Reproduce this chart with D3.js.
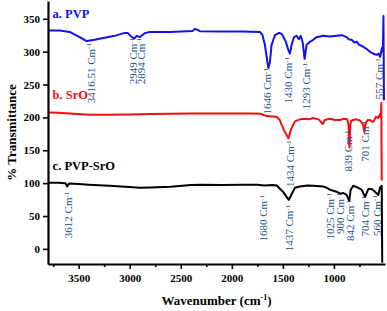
<!DOCTYPE html>
<html>
<head>
<meta charset="utf-8">
<script src="https://cdn.jsdelivr.net/npm/d3@7"></script>
<style>
  body { margin: 0; background: #fff; }
  svg { display: block; }
  text { font-family: "Liberation Serif", "Times New Roman", serif; }
</style>
</head>
<body>
<div id="chart"></div>
<script>
// FTIR spectra, [wavenumber (cm-1), % transmittance (offset)]
let pvp = [
  [3800, 332], [3686, 332], [3588, 330], [3490, 322], [3422, 316], [3343, 318],
  [3245, 321], [3147, 324], [3049, 328.5], [3020, 328.5], [2980, 322], [2955, 320],
  [2931, 324], [2902, 322], [2853, 328], [2804, 330], [2608, 330], [2382, 331.5],
  [2363, 334.6], [2333, 333], [2314, 331], [2100, 330.5], [1900, 330.5], [1725, 330],
  [1699, 325], [1676, 310], [1654, 287], [1642, 275], [1627, 284], [1611, 310],
  [1578, 325], [1536, 328.5], [1512, 327], [1490, 321], [1471, 315], [1448, 303],
  [1431, 297], [1415, 310], [1392, 322], [1366, 324], [1343, 319], [1326, 324],
  [1307, 315], [1287, 289], [1268, 310], [1235, 315], [1203, 318], [1170, 322],
  [1105, 324], [1040, 323], [974, 324], [920, 325], [876, 322], [850, 318.5],
  [827, 318], [800, 314], [777, 315], [750, 310], [728, 309], [700, 306],
  [679, 304], [655, 301], [630, 298], [600, 296], [581, 295], [560, 297],
  [548, 292], [538, 299], [529, 306], [521, 300], [515, 354], [510, 226]
];

let sro = [
  [3800, 207.5], [3700, 207], [3550, 205.5], [3400, 204], [3200, 204], [3000, 204.5],
  [2800, 205], [2600, 205.5], [2400, 206], [2200, 206], [2000, 206], [1800, 206],
  [1720, 205.5], [1660, 202], [1562, 201], [1530, 196], [1513, 189], [1490, 181],
  [1445, 168], [1422, 181], [1382, 194], [1366, 195], [1330, 197], [1284, 198],
  [1240, 197], [1206, 199], [1150, 197], [1108, 190], [1090, 196], [1039, 198],
  [990, 196], [941, 196], [900, 198], [870, 197], [858, 189], [848, 154],
  [840, 189], [830, 195], [811, 196], [780, 197], [745, 195], [716, 190],
  [703, 178], [691, 190], [670, 196], [647, 196], [620, 193], [608, 195],
  [588, 201], [566, 199], [549, 205], [540, 200], [536, 222], [532, 104]
];

let pvpSro = [
  [3800, 100.5], [3700, 100.5], [3630, 100], [3612, 95], [3595, 99.5], [3500, 98.5],
  [3400, 97.5], [3200, 96], [3000, 94], [2900, 93], [2800, 93.5], [2600, 94.5],
  [2400, 97], [2300, 97.5], [2100, 97], [1900, 97.5], [1750, 97.5], [1680, 96.5],
  [1600, 97], [1560, 96.5], [1500, 87], [1442, 74.5], [1382, 93], [1333, 95],
  [1260, 96.5], [1203, 96], [1105, 95], [1072, 93], [1039, 90], [974, 87],
  [941, 84], [908, 85], [876, 82], [850, 73], [836, 90], [811, 96], [777, 94],
  [728, 90], [696, 79], [663, 91], [630, 91], [598, 87], [565, 82], [549, 93],
  [532, 96], [527, -21]
];

// peak labels: [label, wavenumber, %T at the top end of the label]
let pvpPeaks = [
  ["3416.51", 3382, 313], ["2949", 2966, 321], ["2894", 2892, 321],
  ["1646", 1650, 275], ["1430", 1447, 292], ["1293", 1275, 283], ["557", 556, 290]
];
let sroPeaks = [["1434", 1431, 165], ["839", 860, 180], ["701", 696, 195]];
let pvpSroPeaks = [
  ["3612", 3603, 87], ["1680", 1693, 82], ["1437", 1438, 67], ["1025", 1039, 85],
  ["900", 941, 85], ["842", 843, 74.5], ["704", 696, 81], ["560", 581, 82]
];

let seriesNames = ["a. PVP", "b. SrO", "c. PVP-SrO"];
let seriesColors = ["#1010f0", "#f01010", "#000000"];
let nameLevels = [351, 228, 120];

let xTicks = [3500, 3000, 2500, 2000, 1500, 1000];
let xMinorTicks = [3750, 3250, 2750, 2250, 1750, 1250, 750];
let yTicks = [0, 50, 100, 150, 200, 250, 300, 350];

let totalWidth = 387,
  totalHeight = 311,
  plotLeft = 48,
  plotRight = 385,
  plotTop = 1,
  plotBottom = 264,
  labelColor = "#1f4f8a";

let svg = d3.select("#chart").append("svg")
  .attr("width", totalWidth)
  .attr("height", totalHeight);

let x = d3.scaleLinear().domain([3800, 500]).range([plotLeft, plotRight]);
let y = d3.scaleLinear().domain([-23, 377]).range([plotBottom, plotTop]);

// spectra
let line = d3.line()
  .x(function (d) { return x(d[0]); })
  .y(function (d) { return y(d[1]); });

[pvp, sro, pvpSro].forEach(function (s, i) {
  svg.append("path")
    .datum(s)
    .attr("fill", "none")
    .attr("stroke", seriesColors[i])
    .attr("stroke-width", 2)
    .attr("stroke-linejoin", "round")
    .attr("d", line);
});

// peak labels, rotated, reading bottom to top
function peakLabels(list) {
  svg.append("g").selectAll("text")
    .data(list)
    .enter().append("text")
    .attr("transform", function (d) {
      return "translate(" + x(d[1]) + "," + y(d[2]) + ") rotate(-90)";
    })
    .attr("text-anchor", "end")
    .attr("dy", "0.35em")
    .attr("fill", labelColor)
    .style("font-size", "11px")
    .each(function (d) {
      let t = d3.select(this);
      t.append("tspan").text(d[0] + " Cm");
      t.append("tspan").attr("dy", "-0.45em").style("font-size", "7px").text("-1");
    });
}
peakLabels(pvpPeaks);
peakLabels(sroPeaks);
peakLabels(pvpSroPeaks);

// series names
svg.append("g").selectAll("text")
  .data(seriesNames)
  .enter().append("text")
  .attr("x", x(3755))
  .attr("y", function (d, i) { return y(nameLevels[i]); })
  .attr("fill", function (d, i) { return seriesColors[i]; })
  .style("font-size", "12.5px")
  .style("font-weight", "bold")
  .text(function (d) { return d; });

// axes
svg.append("g")
  .attr("transform", "translate(" + plotLeft + ",0)")
  .call(d3.axisLeft(y).tickValues(yTicks).tickFormat(d3.format("d"))
    .tickSize(5).tickSizeOuter(0).tickPadding(3));

svg.append("g")
  .attr("transform", "translate(0," + plotBottom + ")")
  .call(d3.axisBottom(x).tickValues(xTicks).tickFormat(d3.format("d"))
    .tickSize(5).tickSizeOuter(0).tickPadding(5));

svg.append("g")
  .attr("transform", "translate(0," + plotBottom + ")")
  .call(d3.axisBottom(x).tickValues(xMinorTicks).tickSize(3).tickFormat(""))
  .select(".domain").remove();

svg.selectAll(".domain").attr("stroke-width", 2.2);
svg.selectAll(".tick line").attr("stroke-width", 1.6);
svg.selectAll(".tick text")
  .style("font-family", "'Liberation Serif', 'Times New Roman', serif")
  .style("font-size", "11px")
  .style("font-weight", "bold")
  .attr("fill", "#000");

// axis titles
svg.append("text")
  .attr("transform", "translate(16," + ((plotTop + plotBottom) / 2) + ") rotate(-90)")
  .attr("text-anchor", "middle")
  .style("font-size", "13px")
  .style("font-weight", "bold")
  .text("% Transmittance");

let xTitle = svg.append("text")
  .attr("x", (plotLeft + plotRight) / 2)
  .attr("y", 305)
  .attr("text-anchor", "middle")
  .style("font-size", "13px")
  .style("font-weight", "bold");
xTitle.append("tspan").text("Wavenumber (cm");
xTitle.append("tspan").attr("dy", "-5").style("font-size", "8px").text("-1");
xTitle.append("tspan").attr("dy", "5").text(")");
</script>
</body>
</html>
